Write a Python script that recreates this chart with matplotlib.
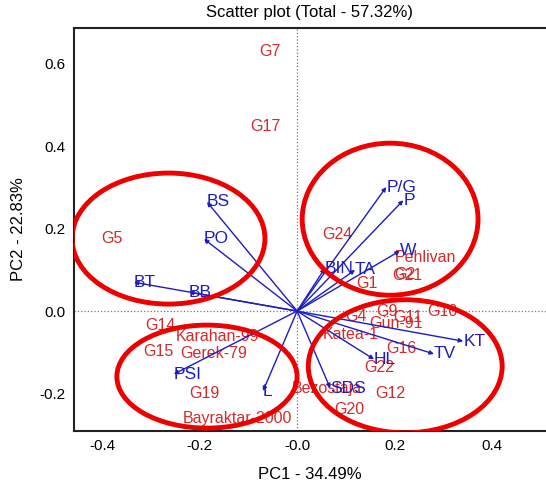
import matplotlib
matplotlib.use('Agg')
from matplotlib import pyplot as plt
from matplotlib.patches import Ellipse

plt.rcParams['font.family'] = ['Liberation Sans', 'DejaVu Sans']

# genotype scores (red labels)
genotypes = ['G7', 'G17', 'G5', 'G24', 'Pehlivan', 'G2', 'G21', 'G1', 'G9', 'G10', 'G11', 'G4',
             'Gün-91', 'Katea-1', 'G16', 'G22', 'G12', 'G20', 'Bezostaja', 'G14', 'Karahan-99',
             'G15', 'Gerek-79', 'G19', 'Bayraktar-2000']
g_pc1 = [-0.055, -0.066, -0.380, 0.082, 0.263, 0.221, 0.226, 0.144, 0.185, 0.298, 0.228, 0.121,
         0.203, 0.111, 0.214, 0.168, 0.191, 0.107, 0.061, -0.281, -0.164,
         -0.285, -0.172, -0.191, -0.123]
g_pc2 = [0.629, 0.449, 0.177, 0.187, 0.131, 0.088, 0.087, 0.068, -0.002, 0.000, -0.015, -0.012,
         -0.029, -0.058, -0.090, -0.136, -0.199, -0.238, -0.187, -0.034, -0.061,
         -0.099, -0.104, -0.201, -0.260]

# trait loadings (blue vectors)
traits = ['BS', 'PO', 'BT', 'BB', 'P/G', 'P', 'W', 'BIN', 'TA', 'KT', 'TV', 'HL', 'SDS', 'PSI', 'L']
t_pc1 = [-0.185, -0.191, -0.335, -0.222, 0.183, 0.218, 0.211, 0.057, 0.119, 0.341, 0.281, 0.158,
         0.068, -0.253, -0.070]
t_pc2 = [0.265, 0.175, 0.070, 0.046, 0.301, 0.269, 0.146, 0.104, 0.100, -0.073, -0.104, -0.117,
         -0.187, -0.153, -0.194]

# group ellipses: (centre x, centre y, width, height)
groups = [(-0.264, 0.176, 0.396, 0.318),
          (0.191, 0.223, 0.361, 0.369),
          (0.222, -0.134, 0.398, 0.323),
          (-0.185, -0.159, 0.370, 0.250)]

red = '#d42a2a'
blue = '#1c1cc4'

fig = plt.figure(figsize=(5.46, 4.83), dpi=100)
ax = fig.add_axes([74 / 546, 52 / 483, 472 / 546, 403 / 483])
ax.set_xlim(-0.458, 0.511)
ax.set_ylim(-0.291, 0.687)

ax.axhline(0, color='#777777', lw=0.9, ls=':', zorder=1)
ax.axvline(0, color='#777777', lw=0.9, ls=':', zorder=1)

for name, x, y in zip(genotypes, g_pc1, g_pc2):
    ax.text(x, y, name, color=red, fontsize=11.5, ha='center', va='center', zorder=2)

for name, x, y in zip(traits, t_pc1, t_pc2):
    ax.annotate('', xy=(x, y), xytext=(0, 0),
                arrowprops=dict(arrowstyle='-|>', mutation_scale=6, lw=1.0, color=blue,
                                shrinkA=0, shrinkB=0), zorder=3)
    ax.text(x, y, name, color=blue, fontsize=12.5, ha='left', va='center', zorder=4)

for cx, cy, w, h in groups:
    ax.add_patch(Ellipse((cx, cy), w, h, fill=False, ec='#ee0000', lw=3.5, zorder=5))

ax.set_xticks([-0.4, -0.2, 0.0, 0.2, 0.4])
ax.set_xticklabels(['-0.4', '-0.2', '-0.0', '0.2', '0.4'])
ax.set_yticks([-0.2, 0.0, 0.2, 0.4, 0.6])
ax.set_yticklabels(['-0.2', '0.0', '0.2', '0.4', '0.6'])
ax.tick_params(length=0, labelsize=11, pad=6)
ax.spines['right'].set_visible(False)
for s in ['left', 'top', 'bottom']:
    ax.spines[s].set_linewidth(1.5)
    ax.spines[s].set_color('#222222')

ax.set_title('Scatter plot (Total - 57.32%)', fontsize=12, pad=8)
ax.set_xlabel('PC1 - 34.49%', fontsize=12, labelpad=10)
ax.set_ylabel('PC2 - 22.83%', fontsize=12, labelpad=10)

fig.savefig('out.png', dpi=100)
